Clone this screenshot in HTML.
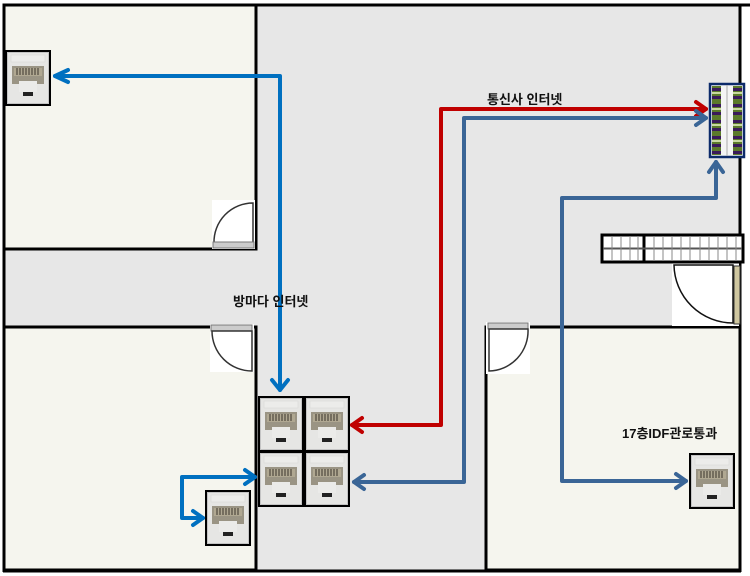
<!DOCTYPE html>
<html><head><meta charset="utf-8"><style>
html,body{margin:0;padding:0;background:#fff;}
svg{display:block;}
text{font-family:"Liberation Sans","Noto Sans CJK KR","NanumGothic",sans-serif;font-size:13px;font-weight:bold;fill:#111;}
</style></head><body>
<svg width="750" height="576" viewBox="0 0 750 576" xmlns="http://www.w3.org/2000/svg">
<defs>
<g id="jack">
<rect x="0" y="0" width="46" height="56" fill="#000"/>
<rect x="2.5" y="2.5" width="41" height="51" fill="#e6e6e4" stroke="#c4c4c4" stroke-width="1"/>
<rect x="6" y="5" width="34" height="7" fill="#ececea" stroke="#d4d4d4" stroke-width="0.5"/>
<rect x="7" y="16" width="32" height="18" fill="#9a9484"/>
<rect x="9" y="18" width="28" height="8" fill="#b0a892"/>
<g stroke="#3a352c" stroke-width="1"><line x1="12" y1="18" x2="12" y2="25"/><line x1="15" y1="18" x2="15" y2="25"/><line x1="18" y1="18" x2="18" y2="25"/><line x1="21" y1="18" x2="21" y2="25"/><line x1="24" y1="18" x2="24" y2="25"/><line x1="27" y1="18" x2="27" y2="25"/><line x1="30" y1="18" x2="30" y2="25"/><line x1="33" y1="18" x2="33" y2="25"/></g>
<rect x="14" y="31" width="18" height="11" fill="#ebebe9"/>
<rect x="18" y="42" width="10" height="4" fill="#222"/>
</g>
</defs>
<rect x="0" y="0" width="750" height="576" fill="#fff"/>
<rect x="4" y="5" width="736" height="566" fill="#e7e7e7"/>
<rect x="4" y="5" width="252" height="244" fill="#f5f5ee" stroke="#000" stroke-width="3"/>
<rect x="4" y="327" width="252" height="243" fill="#f5f5ee" stroke="#000" stroke-width="3"/>
<rect x="486" y="327" width="254" height="243" fill="#f5f5ee" stroke="#000" stroke-width="3"/>
<line x1="3" y1="5" x2="750" y2="5" stroke="#000" stroke-width="3"/>
<line x1="4" y1="4" x2="4" y2="572" stroke="#000" stroke-width="3"/>
<line x1="3" y1="571" x2="741" y2="571" stroke="#000" stroke-width="3"/>
<line x1="740" y1="4" x2="740" y2="572" stroke="#000" stroke-width="3"/>
<g>
<rect x="212" y="200" width="43" height="49" fill="#fff"/>
<path d="M214 243 A39 39 0 0 1 253 203 L253 243 Z" fill="#fff" stroke="#333" stroke-width="1.5"/>
<rect x="213" y="242" width="41" height="6" fill="#ccc" stroke="#777" stroke-width="1"/>
</g>
<g>
<rect x="210" y="324" width="44" height="48" fill="#fff"/>
<rect x="211" y="325" width="41" height="6" fill="#ccc" stroke="#777" stroke-width="1"/>
<path d="M252 331 L252 371 A40 40 0 0 1 212 331 Z" fill="#fff" stroke="#333" stroke-width="1.5"/>
</g>
<g>
<rect x="486" y="322" width="44" height="52" fill="#fff"/>
<rect x="488" y="323" width="40" height="6" fill="#ccc" stroke="#777" stroke-width="1"/>
<path d="M489 329 L528 329 A40 40 0 0 1 489 371 Z" fill="#fff" stroke="#333" stroke-width="1.5"/>
</g>
<rect x="672" y="263" width="67" height="63" fill="#fff"/>
<path d="M674 265 L733 265 L733 323 A59 59 0 0 1 674 265 Z" fill="#fff" stroke="#111" stroke-width="1.5"/>
<rect x="734" y="266" width="6" height="58" fill="#cfc7a0" stroke="#333" stroke-width="1"/>
<g>
<rect x="602" y="235" width="141" height="27" fill="#fff" stroke="#000" stroke-width="3"/>
<line x1="644" y1="235" x2="644" y2="262" stroke="#000" stroke-width="3"/>
<line x1="603" y1="248.5" x2="742" y2="248.5" stroke="#555" stroke-width="2"/>
<g stroke="#888" stroke-width="1">
<line x1="612" y1="236" x2="612" y2="261"/><line x1="621" y1="236" x2="621" y2="261"/><line x1="630" y1="236" x2="630" y2="261"/><line x1="638" y1="236" x2="638" y2="261"/>
<line x1="654" y1="236" x2="654" y2="261"/><line x1="663" y1="236" x2="663" y2="261"/><line x1="672" y1="236" x2="672" y2="261"/><line x1="681" y1="236" x2="681" y2="261"/><line x1="690" y1="236" x2="690" y2="261"/><line x1="700" y1="236" x2="700" y2="261"/><line x1="709" y1="236" x2="709" y2="261"/><line x1="718" y1="236" x2="718" y2="261"/><line x1="727" y1="236" x2="727" y2="261"/><line x1="736" y1="236" x2="736" y2="261"/>
</g>
</g>
<g>
<rect x="710" y="84" width="34" height="73" fill="#f4f4f4" stroke="#0c2a6a" stroke-width="2.5"/>
<rect x="712" y="86" width="9" height="69" fill="#5b7a2a"/>
<rect x="733" y="86" width="9" height="69" fill="#5b7a2a"/>
<g fill="#3a1a5a">
<rect x="712" y="88" width="9" height="3"/><rect x="712" y="96" width="9" height="3"/><rect x="712" y="104" width="9" height="3"/><rect x="712" y="112" width="9" height="3"/><rect x="712" y="120" width="9" height="3"/><rect x="712" y="128" width="9" height="3"/><rect x="712" y="136" width="9" height="3"/><rect x="712" y="144" width="9" height="3"/><rect x="712" y="151" width="9" height="3"/>
<rect x="733" y="88" width="9" height="3"/><rect x="733" y="96" width="9" height="3"/><rect x="733" y="104" width="9" height="3"/><rect x="733" y="112" width="9" height="3"/><rect x="733" y="120" width="9" height="3"/><rect x="733" y="128" width="9" height="3"/><rect x="733" y="136" width="9" height="3"/><rect x="733" y="144" width="9" height="3"/><rect x="733" y="151" width="9" height="3"/>
</g>
<g fill="#c8d8a0">
<rect x="712" y="92" width="9" height="2"/><rect x="712" y="108" width="9" height="2"/><rect x="712" y="124" width="9" height="2"/><rect x="712" y="140" width="9" height="2"/>
<rect x="733" y="92" width="9" height="2"/><rect x="733" y="108" width="9" height="2"/><rect x="733" y="124" width="9" height="2"/><rect x="733" y="140" width="9" height="2"/>
</g>
<line x1="727" y1="85" x2="727" y2="156" stroke="#aaa" stroke-width="1"/>
</g>
<use href="#jack" x="5" y="50"/>
<use href="#jack" x="258" y="396"/>
<use href="#jack" x="304" y="396"/>
<use href="#jack" x="258" y="451"/>
<use href="#jack" x="304" y="451"/>
<use href="#jack" x="205" y="490"/>
<use href="#jack" x="689" y="453"/>
<g fill="none" stroke-width="4" stroke-linejoin="round" stroke-linecap="round">
<path d="M280 390 L280 76 L55 76" stroke="#0070c0"/>
<path d="M68 70 L55 76 L68 82" stroke="#0070c0"/>
<path d="M272 380 L280 390 L288 380" stroke="#0070c0"/>
<path d="M255 477 L182 477 L182 518 L203 518" stroke="#0070c0"/>
<path d="M245 470 L255 477 L245 484" stroke="#0070c0"/>
<path d="M193 511 L203 518 L193 525" stroke="#0070c0"/>
<path d="M352 425 L441 425 L441 109 L706 109" stroke="#c00000"/>
<path d="M362 418 L352 425 L362 432" stroke="#c00000"/>
<path d="M696 102 L706 109 L696 116" stroke="#c00000"/>
<path d="M354 482 L464 482 L464 118 L706 118" stroke="#3a6596"/>
<path d="M364 475 L354 482 L364 489" stroke="#3a6596"/>
<path d="M696 111 L706 118 L696 125" stroke="#3a6596"/>
<path d="M686 481 L562 481 L562 198 L716 198 L716 162" stroke="#3a6596"/>
<path d="M676 474 L686 481 L676 488" stroke="#3a6596"/>
<path d="M709 172 L716 162 L723 172" stroke="#3a6596"/>
</g>
<text x="233" y="306">방마다 인터넷</text>
<text x="487" y="104">통신사 인터넷</text>
<text x="622" y="438">17층IDF관로통과</text>
</svg>
</body></html>
